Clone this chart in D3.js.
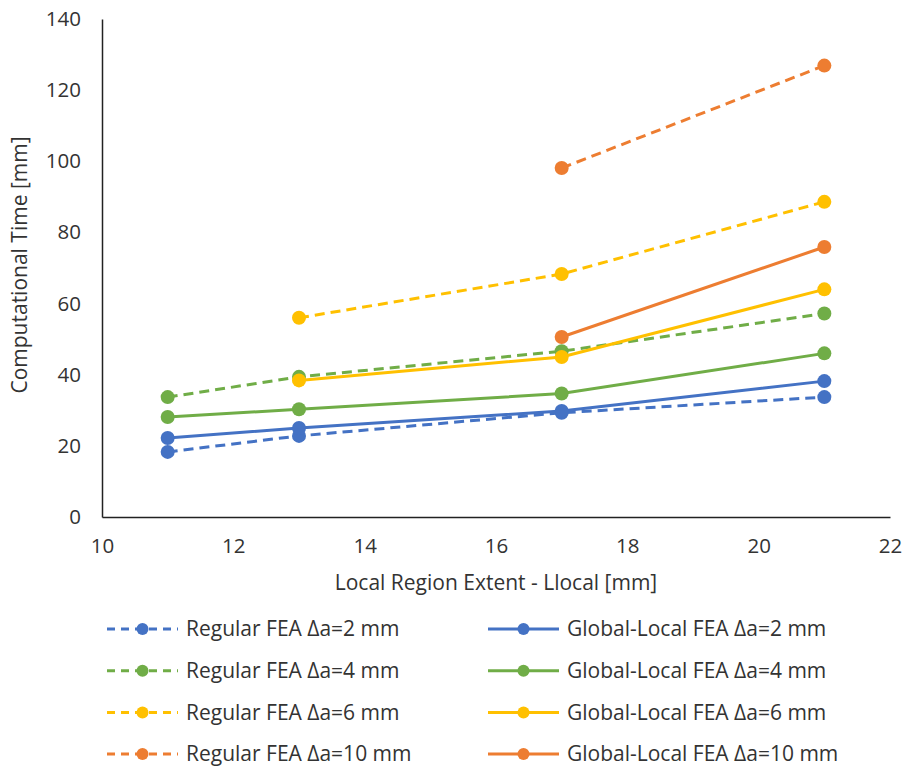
<!DOCTYPE html>
<html>
<head>
<meta charset="utf-8">
<script src="https://cdn.jsdelivr.net/npm/d3@7"></script>
<style>
  body { margin: 0; background: #fff; }
  text { font-family: "Open Sans", sans-serif; fill: #333; }
</style>
</head>
<body>
<svg id="chart" width="903" height="769"></svg>
<script>
// Chart data
const xTicks = [10, 12, 14, 16, 18, 20, 22];
const yTicks = [0, 20, 40, 60, 80, 100, 120, 140];

const regular2 = [[11, 18.3], [13, 22.8], [17, 29.3], [21, 33.7]];
const regular4 = [[11, 33.7], [13, 39.4], [17, 46.6], [21, 57.2]];
const regular6 = [[13, 56.0], [17, 68.3], [21, 88.6]];
const regular10 = [[17, 98.1], [21, 126.9]];
const global2 = [[11, 22.2], [13, 25.0], [17, 29.8], [21, 38.2]];
const global4 = [[11, 28.1], [13, 30.3], [17, 34.7], [21, 46.0]];
const global6 = [[13, 38.4], [17, 45.0], [21, 64.0]];
const global10 = [[17, 50.6], [21, 75.9]];

const seriesNames = [
    "Regular FEA Δa=2 mm", "Global-Local FEA Δa=2 mm",
    "Regular FEA Δa=4 mm", "Global-Local FEA Δa=4 mm",
    "Regular FEA Δa=6 mm", "Global-Local FEA Δa=6 mm",
    "Regular FEA Δa=10 mm", "Global-Local FEA Δa=10 mm"
];
const seriesValues = [regular2, global2, regular4, global4, regular6, global6, regular10, global10];
const seriesColors = ["#4472C4", "#4472C4", "#70AD47", "#70AD47", "#FFC000", "#FFC000", "#ED7D31", "#ED7D31"];
const seriesDashed = [true, false, true, false, true, false, true, false];

const svg = d3.select("#chart");

// Scales
const x = d3.scaleLinear().domain([10, 22]).range([102, 890]);
const y = d3.scaleLinear().domain([0, 140]).range([517, 19]);

// Axes
const xAxis = svg.append("g")
    .attr("transform", `translate(0,${y(0)})`)
    .call(d3.axisBottom(x).tickValues(xTicks).tickSize(0).tickPadding(21));
const yAxis = svg.append("g")
    .attr("transform", `translate(${x(10)},0)`)
    .call(d3.axisLeft(y).tickValues(yTicks).tickSize(0).tickPadding(21));

[xAxis, yAxis].forEach(a => {
    a.select(".domain").attr("stroke", "#222").attr("stroke-width", 1.5);
    a.selectAll("text").style("font-size", "20.5px").style("font-family", "Open Sans").style("fill", "#333");
});

// Axis titles
svg.append("text")
    .attr("x", 496).attr("y", 590)
    .attr("text-anchor", "middle")
    .style("font-size", "21px")
    .text("Local Region Extent - Llocal [mm]");

svg.append("text")
    .attr("transform", "translate(27,265) rotate(-90)")
    .attr("text-anchor", "middle")
    .style("font-size", "21px")
    .text("Computational Time [mm]");

// Lines and markers
const line = d3.line().x(d => x(d[0])).y(d => y(d[1]));

seriesValues.forEach((vals, i) => {
    const g = svg.append("g");
    g.append("path")
        .datum(vals)
        .attr("d", line)
        .attr("fill", "none")
        .attr("stroke", seriesColors[i])
        .attr("stroke-width", 3)
        .attr("stroke-dasharray", seriesDashed[i] ? "10,6" : null);
    g.selectAll("circle")
        .data(vals)
        .enter()
        .append("circle")
        .attr("cx", d => x(d[0]))
        .attr("cy", d => y(d[1]))
        .attr("r", 7)
        .attr("fill", seriesColors[i]);
});

// Legend
const legend = svg.append("g");
seriesNames.forEach((name, i) => {
    const col = i % 2;
    const row = Math.floor(i / 2);
    const lx = col === 0 ? 107 : 488;
    const ly = 629 + row * 41.7;
    const item = legend.append("g").attr("transform", `translate(${lx},${ly})`);
    item.append("line")
        .attr("x1", 0).attr("x2", 71)
        .attr("y1", 0).attr("y2", 0)
        .attr("stroke", seriesColors[i])
        .attr("stroke-width", 3)
        .attr("stroke-dasharray", seriesDashed[i] ? "8,6" : null);
    item.append("circle")
        .attr("cx", 35.5).attr("cy", 0).attr("r", 6)
        .attr("fill", seriesColors[i]);
    item.append("text")
        .attr("x", 79).attr("y", 0)
        .attr("dy", "0.35em")
        .style("font-size", "21px")
        .text(name);
});
</script>
</body>
</html>
